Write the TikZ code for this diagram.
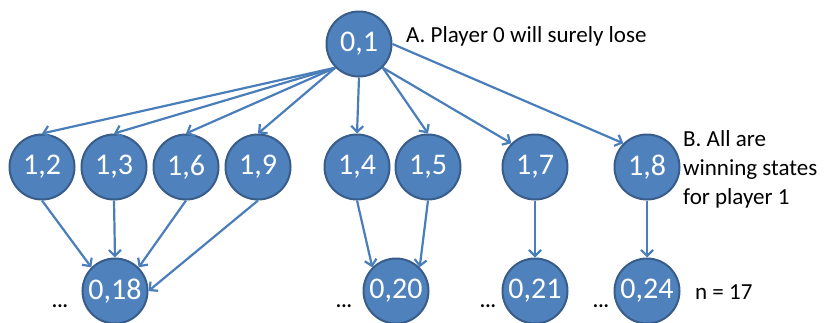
\documentclass[tikz,border=0pt]{standalone}
\usepackage{fontspec}
\setmainfont{Carlito}
\usetikzlibrary{arrows.meta}
\definecolor{nodefill}{HTML}{4F81BD}
\definecolor{nodeedge}{HTML}{385D8A}
\definecolor{arrowcol}{HTML}{4A7EBB}
\begin{document}
\begin{tikzpicture}[x=1pt,y=-1pt,
  state/.style={circle,fill=nodefill,draw=nodeedge,line width=2pt,minimum size=65pt,inner sep=0pt,
    text=white,font=\fontsize{30}{32}\selectfont},
  lbl/.style={anchor=base west,inner sep=0pt,font=\fontsize{23}{27}\selectfont,text=black},
  dotslbl/.style={anchor=base,inner sep=0pt,font=\fontsize{20}{24}\selectfont\bfseries},
  edge/.style={draw=arrowcol,line width=2.2pt,-{Straight Barb[length=6pt,width=12pt,line width=2.2pt]}}]
\useasboundingbox (0,0) rectangle (833,322);
\node[state] (n01) at (359,44) {0,1};
\node[state] (n12) at (42,167) {1,2};
\node[state] (n13) at (114,167) {1,3};
\node[state] (n16) at (186,167) {1,6};
\node[state] (n19) at (258,167) {1,9};
\node[state] (n14) at (357,167) {1,4};
\node[state] (n15) at (428,167) {1,5};
\node[state] (n17) at (535,167) {1,7};
\node[state] (n18) at (647,167) {1,8};
\node[state] (n018) at (115,291) {0,18};
\node[state] (n020) at (396,291) {0,20};
\node[state] (n021) at (535,291) {0,21};
\node[state] (n024) at (647,291) {0,24};
\draw[edge] (n01.south west) -- (n12.north);
\draw[edge] (n01.south west) -- (n13.north);
\draw[edge] (n01.south west) -- (n16.north);
\draw[edge] (n01.south west) -- (n19.north);
\draw[edge] (n01.south) -- (n14.north);
\draw[edge] (n01.south east) -- (n15.north);
\draw[edge] (n01.south east) -- (n17.north west);
\draw[edge] (n01.east) -- (n18.north west);
\draw[edge] (n12.south) -- (n018.north west);
\draw[edge] (n13.south) -- (n018.north);
\draw[edge] (n16.south) -- (n018.north east);
\draw[edge] (n19.south) -- (n018.east);
\draw[edge] (n14.south) -- (n020.north west);
\draw[edge] (n15.south) -- (n020.north east);
\draw[edge] (n17.south) -- (n021.north);
\draw[edge] (n18.south) -- (n024.north);
\node[lbl] (la) at (406,42) {A. Player 0 will surely lose};
\node[lbl] (lb1) at (683,146) {B. All are};
\node[lbl] (lb2) at (683,175) {winning states};
\node[lbl] (lb3) at (683,204) {for player 1};
\node[lbl] (ln) at (695,299) {n = 17};
\node[dotslbl] (d1) at (60,307) {...};
\node[dotslbl] (d2) at (344,307) {...};
\node[dotslbl] (d3) at (488,307) {...};
\node[dotslbl] (d4) at (601,307) {...};
\end{tikzpicture}
\end{document}
